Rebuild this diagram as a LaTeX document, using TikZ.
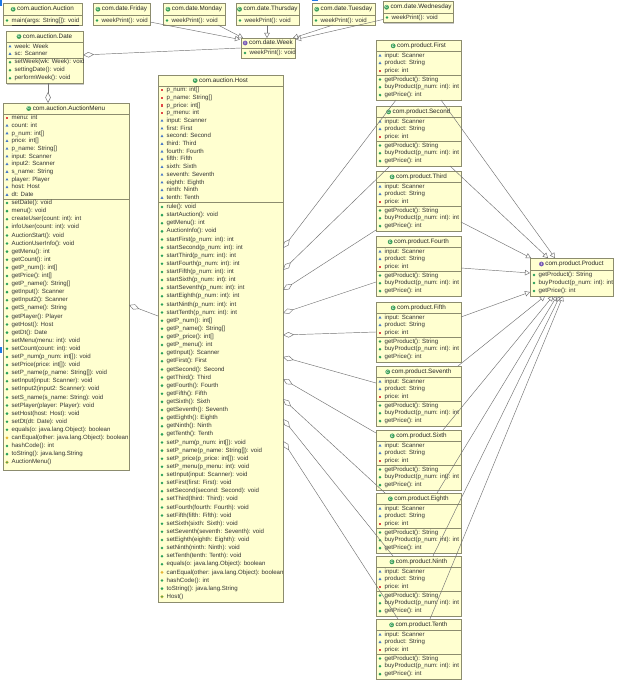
\documentclass[tikz,border=0pt]{standalone}
\usepackage{fontspec}
\setmainfont{Liberation Sans}
\usetikzlibrary{arrows.meta,calc,shapes.geometric,shadows}

\definecolor{boxfill}{RGB}{255,255,208}
\definecolor{boxline}{RGB}{140,140,110}
\definecolor{pubc}{RGB}{40,160,90}
\definecolor{pkgc}{RGB}{70,120,200}
\definecolor{prvc}{RGB}{225,70,70}
\definecolor{protc}{RGB}{230,180,50}
\definecolor{clsc}{RGB}{60,160,90}
\definecolor{intc}{RGB}{120,90,180}
\definecolor{linec}{RGB}{115,115,115}
\definecolor{selc}{RGB}{30,120,230}

\tikzset{
 umlbox/.style={draw=boxline, fill=boxfill, line width=0.6pt, anchor=north west, inner sep=0pt, outer sep=0pt,
   drop shadow={shadow xshift=1.2pt, shadow yshift=-1.2pt, fill=black, opacity=0.22}},
 rowtxt/.style={anchor=west, inner sep=0pt, font=\fontsize{6.1}{7}\selectfont, text=black!80, text height=4.4pt, text depth=1.2pt},
 hdrtxt/.style={anchor=center, inner sep=0pt, font=\fontsize{6.3}{7}\selectfont, text=black!85, text height=4.5pt, text depth=1.3pt},
 icpub/.style={circle, fill=pubc, inner sep=0pt, minimum size=2.8pt},
 icpkg/.style={regular polygon, regular polygon sides=3, fill=pkgc, inner sep=0pt, minimum size=3.4pt},
 icprv/.style={rectangle, fill=prvc, inner sep=0pt, minimum size=2.2pt},
 icprot/.style={diamond, fill=protc, inner sep=0pt, minimum size=3.2pt},
 icctor/.style={circle, fill=pubc, draw=protc, line width=0.4pt, inner sep=0pt, minimum size=2.8pt},
 iccls/.style={circle, fill=clsc, inner sep=0pt, minimum size=4.8pt, text=white, font=\fontsize{3.6}{3.6}\selectfont\bfseries},
 icint/.style={circle, fill=intc, inner sep=0pt, minimum size=4.8pt, text=white, font=\fontsize{3.6}{3.6}\selectfont\bfseries},
 sepline/.style={draw=boxline, line width=0.5pt},
 link/.style={draw=linec, line width=0.45pt},
 realize/.style={link, -{Triangle[open, length=5pt, width=5.5pt]}},
 aggr/.style={link, -{Diamond[open, length=11pt, width=5.5pt]}},
}

% #1 name, #2 x, #3 y, #4 width, #5 height
\newcommand\umlclass[5]{\node[umlbox, minimum width=#4pt, minimum height=#5pt] (#1) at (#2,#3) {};}
% #1 box, #2 header height, #3 icon kind, #4 letter, #5 title
\newcommand\hdr[5]{%
  \node[hdrtxt] (#1-h) at ($(#1.north)+(3,#2/2)$) {#5};
  \node[ic#3] (#1-hi) at ($(#1-h.west)+(-3.8,0)$) {#4};}
\newcommand\sepl[2]{\draw[sepline] ($(#1.north west)+(0,#2)$) -- ($(#1.north east)+(0,#2)$);}
% #1 box, #2 tag, #3 first row offset, #4 step, #5 list
\newcommand\rows[5]{%
  \foreach \ic/\tx [count=\i] in {#5} {
    \pgfmathsetmacro\yy{#3+(\i-1)*#4}
    \node[ic\ic] (#1-#2i\i) at ($(#1.north west)+(4,\yy)$) {};
    \node[rowtxt] (#1-#2t\i) at ($(#1.north west)+(8.5,\yy)$) {\tx};
  }}
\newcommand\prodclass[3]{%
  \umlclass{#1}{376}{#2}{85}{60}
  \hdr{#1}{11.7}{cls}{C}{#3}
  \sepl{#1}{11.7}\sepl{#1}{35.7}
  \rows{#1}{a}{15.7}{7.5}{pkg/input: Scanner, pkg/product: String, prv/price: int}
  \rows{#1}{m}{39.5}{7.8}{pub/getProduct(): String, pub/buyProduct(p\_num: int): int, pub/getPrice(): int}}

\begin{document}
\begin{tikzpicture}[x=1pt,y=-1pt]
\fill[white] (0,0) rectangle (623,685);
\useasboundingbox (0,0) rectangle (623,685);

% selection marks
\fill[selc] (0,0) rectangle (1.5,6);
\fill[selc] (312,0) rectangle (318,1.5);
\fill[selc] (0,347) rectangle (1.5,353);

% ---- top row ----
\umlclass{auc}{3}{3}{79}{22}
\hdr{auc}{12.5}{cls}{C}{com.auction.Auction}
\sepl{auc}{12.5}
\rows{auc}{m}{17.5}{8}{pub/\underline{main(args: String[]): void}}

\umlclass{fri}{93}{3}{57}{22}
\hdr{fri}{12.5}{cls}{C}{com.date.Friday}
\sepl{fri}{12.5}
\rows{fri}{m}{17.5}{8}{pub/weekPrint(): void}

\umlclass{mon}{163}{3}{62}{22}
\hdr{mon}{12.5}{cls}{C}{com.date.Monday}
\sepl{mon}{12.5}
\rows{mon}{m}{17.5}{8}{pub/weekPrint(): void}

\umlclass{thu}{236}{3}{63}{22}
\hdr{thu}{12.5}{cls}{C}{com.date.Thursday}
\sepl{thu}{12.5}
\rows{thu}{m}{17.5}{8}{pub/weekPrint(): void}

\umlclass{tue}{312}{3}{63}{22}
\hdr{tue}{12.5}{cls}{C}{com.date.Tuesday}
\sepl{tue}{12.5}
\rows{tue}{m}{17.5}{8}{pub/weekPrint(): void}

\umlclass{wed}{383}{1.5}{70}{21}
\hdr{wed}{11.5}{cls}{C}{com.date.Wednesday}
\sepl{wed}{11.5}
\rows{wed}{m}{16}{8}{pub/weekPrint(): void}

\umlclass{week}{241}{38}{54}{20}
\hdr{week}{10}{int}{I}{com.date.Week}
\sepl{week}{10}
\rows{week}{m}{15}{8}{pub/weekPrint(): void}

% ---- Date ----
\umlclass{date}{6}{31}{77}{52.3}
\hdr{date}{11}{cls}{C}{com.auction.Date}
\sepl{date}{11}\sepl{date}{27.3}
\rows{date}{a}{15.5}{7.5}{pkg/week: Week, pkg/sc: Scanner}
\rows{date}{m}{31.3}{8}{pub/setWeek(wk: Week): void, pub/settingDate(): void, pub/performWeek(): void}

% ---- AuctionMenu ----
\umlclass{am}{3}{103}{126}{367}
\hdr{am}{11}{cls}{C}{com.auction.AuctionMenu}
\sepl{am}{11}\sepl{am}{96}
\rows{am}{a}{15}{7.7}{prv/menu: int, pkg/count: int, pkg/p\_num: int[], pkg/price: int[], pkg/p\_name: String[], pkg/input: Scanner, pkg/input2: Scanner, pkg/s\_name: String, pkg/player: Player, pkg/host: Host, pkg/dt: Date}
\rows{am}{m}{100}{8.1}{pub/setDate(): void, pub/menu(): void, pub/createUser(count: int): int, pub/infoUser(count: int): void, pub/AuctionStart(): void, pub/AuctionUserInfo(): void, pub/getMenu(): int, pub/getCount(): int, pub/getP\_num(): int[], pub/getPrice(): int[], pub/getP\_name(): String[], pub/getInput(): Scanner, pub/getInput2(): Scanner, pub/getS\_name(): String, pub/getPlayer(): Player, pub/getHost(): Host, pub/getDt(): Date, pub/setMenu(menu: int): void, pub/setCount(count: int): void, pub/setP\_num(p\_num: int[]): void, pub/setPrice(price: int[]): void, pub/setP\_name(p\_name: String[]): void, pub/setInput(input: Scanner): void, pub/setInput2(input2: Scanner): void, pub/setS\_name(s\_name: String): void, pub/setPlayer(player: Player): void, pub/setHost(host: Host): void, pub/setDt(dt: Date): void, pub/equals(o: java.lang.Object): boolean, prot/canEqual(other: java.lang.Object): boolean, pub/hashCode(): int, pub/toString(): java.lang.String, ctor/AuctionMenu()}

% ---- Host ----
\umlclass{host}{158}{75}{125}{527}
\hdr{host}{11}{cls}{C}{com.auction.Host}
\sepl{host}{11}\sepl{host}{127.5}
\rows{host}{a}{15}{7.71}{prv/p\_num: int[], prv/p\_name: String[], prv/p\_price: int[], prv/p\_menu: int, pkg/input: Scanner, pkg/first: First, pkg/second: Second, pkg/third: Third, pkg/fourth: Fourth, pkg/fifth: Fifth, pkg/sixth: Sixth, pkg/seventh: Seventh, pkg/eighth: Eighth, pkg/ninth: Ninth, pkg/tenth: Tenth}
\rows{host}{m}{132}{8.12}{pub/rule(): void, pub/startAuction(): void, pub/getMenu(): int, pub/AuctionInfo(): void, pub/startFirst(p\_num: int): int, pub/startSecond(p\_num: int): int, pub/startThird(p\_num: int): int, pub/startFourth(p\_num: int): int, pub/startFifth(p\_num: int): int, pub/startSixth(p\_num: int): int, pub/startSeventh(p\_num: int): int, pub/startEighth(p\_num: int): int, pub/startNinth(p\_num: int): int, pub/startTenth(p\_num: int): int, pub/getP\_num(): int[], pub/getP\_name(): String[], pub/getP\_price(): int[], pub/getP\_menu(): int, pub/getInput(): Scanner, pub/getFirst(): First, pub/getSecond(): Second, pub/getThird(): Third, pub/getFourth(): Fourth, pub/getFifth(): Fifth, pub/getSixth(): Sixth, pub/getSeventh(): Seventh, pub/getEighth(): Eighth, pub/getNinth(): Ninth, pub/getTenth(): Tenth, pub/setP\_num(p\_num: int[]): void, pub/setP\_name(p\_name: String[]): void, pub/setP\_price(p\_price: int[]): void, pub/setP\_menu(p\_menu: int): void, pub/setInput(input: Scanner): void, pub/setFirst(first: First): void, pub/setSecond(second: Second): void, pub/setThird(third: Third): void, pub/setFourth(fourth: Fourth): void, pub/setFifth(fifth: Fifth): void, pub/setSixth(sixth: Sixth): void, pub/setSeventh(seventh: Seventh): void, pub/setEighth(eighth: Eighth): void, pub/setNinth(ninth: Ninth): void, pub/setTenth(tenth: Tenth): void, pub/equals(o: java.lang.Object): boolean, prot/canEqual(other: java.lang.Object): boolean, pub/hashCode(): int, pub/toString(): java.lang.String, ctor/Host()}

% ---- product classes ----
\prodclass{p1}{40}{com.product.First}
\prodclass{p2}{106}{com.product.Second}
\prodclass{p3}{171}{com.product.Third}
\prodclass{p4}{236}{com.product.Fourth}
\prodclass{p5}{302}{com.product.Fifth}
\prodclass{p7}{366}{com.product.Seventh}
\prodclass{p6}{430}{com.product.Sixth}
\prodclass{p8}{493}{com.product.Eighth}
\prodclass{p9}{556}{com.product.Ninth}
\prodclass{p10}{619}{com.product.Tenth}

% ---- Product interface ----
\umlclass{prod}{530}{258}{83}{38}
\hdr{prod}{12}{int}{I}{com.product.Product}
\sepl{prod}{12}
\rows{prod}{m}{17}{8}{pub/getProduct(): String, pub/buyProduct(p\_num: int): int, pub/getPrice(): int}

% ---- connectors: realizations to Week ----
\draw[realize] ($(fri.north west)+(57,19)$) -- ($(week.north west)+(-1,1.5)$);
\draw[realize] ($(mon.north west)+(55,22)$) -- ($(week.north west)+(2,0)$);
\draw[realize] ($(thu.north west)+(31,22)$) -- ($(week.north west)+(26,0)$);
\draw[realize] ($(tue.north west)+(21,22)$) -- ($(week.north east)+(-2,0)$);
\draw[realize] ($(wed.north west)+(0,18)$) -- ($(week.north east)+(1,1.5)$);

% ---- aggregations ----
\draw[aggr] (week.west) -- ($(date.north east)+(0,24)$);
\draw[aggr] ($(date.south west)+(42,0)$) -- ($(am.north west)+(45,0)$);
\draw[aggr] ($(host.north west)+(0,241)$) -- ($(am.north east)+(0,202)$);

\draw[aggr] ($(p1.south west)+(20,0)$) -- ($(host.north east)+(0,173)$);
\draw[aggr] ($(p2.south west)+(14,0)$) -- ($(host.north east)+(0,195)$);
\draw[aggr] ($(p3.south west)+(0,-1)$) -- ($(host.north east)+(0,215)$);
\draw[aggr] ($(p4.north west)+(0,46)$) -- ($(host.north east)+(0,238)$);
\draw[aggr] ($(p5.north west)+(0,30)$) -- ($(host.north east)+(0,260)$);
\draw[aggr] ($(p7.north west)+(0,17)$) -- ($(host.north east)+(0,282)$);
\draw[aggr] ($(p6.north west)+(0,3)$) -- ($(host.north east)+(0,304)$);
\draw[aggr] ($(p8.north west)+(9,0)$) -- ($(host.north east)+(0,324)$);
\draw[aggr] ($(p9.north west)+(17,0)$) -- ($(host.north east)+(0,344)$);
\draw[aggr] ($(p10.north west)+(22,0)$) -- ($(host.north east)+(0,366)$);

% ---- realizations to Product ----
\draw[realize] ($(p1.south west)+(65,0)$) -- ($(prod.north west)+(25,0)$);
\draw[realize] ($(p2.south west)+(74,0)$) -- ($(prod.north west)+(18,0)$);
\draw[realize] ($(p3.north east)+(0,51)$) -- ($(prod.north west)+(1,0)$);
\draw[realize] ($(p4.north east)+(0,32)$) -- ($(prod.north west)+(0,15)$);
\draw[realize] ($(p5.north east)+(0,15)$) -- ($(prod.north west)+(0,34)$);
\draw[realize] ($(p7.north east)+(-3,0)$) -- ($(prod.south west)+(15,0)$);
\draw[realize] ($(p6.north west)+(67,0)$) -- ($(prod.south west)+(23,0)$);
\draw[realize] ($(p8.north west)+(61,0)$) -- ($(prod.south west)+(27,0)$);
\draw[realize] ($(p9.north west)+(57,0)$) -- ($(prod.south west)+(30,0)$);
\draw[realize] ($(p10.north west)+(54,0)$) -- ($(prod.south west)+(33,0)$);
\end{tikzpicture}
\end{document}
